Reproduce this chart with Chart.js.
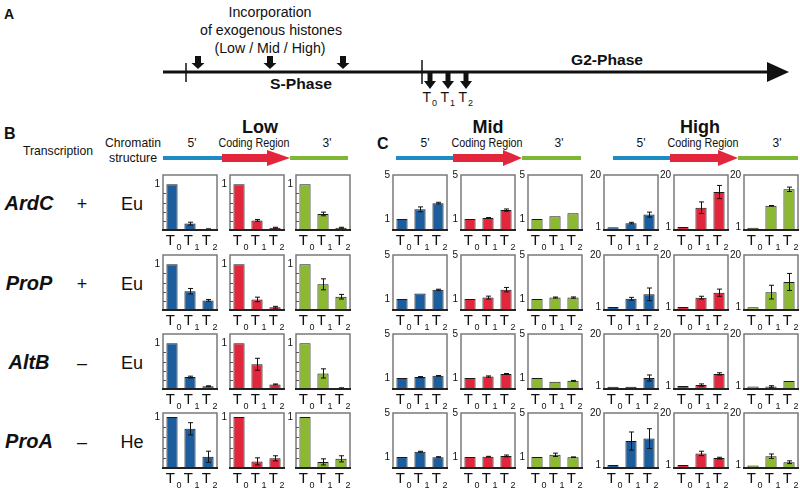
<!DOCTYPE html>
<html>
<head>
<meta charset="utf-8">
<script src="https://cdn.jsdelivr.net/npm/chart.js@4.4.0/dist/chart.umd.min.js"></script>
<style>
  html, body { margin: 0; padding: 0; background: #fff; }
  #fig { position: relative; width: 800px; height: 488px; overflow: hidden; }
  #fig svg { position: absolute; left: 0; top: 0; }
  #fig canvas { position: absolute; }
</style>
</head>
<body>
<div id="fig"><svg id="art" width="800" height="488" xmlns="http://www.w3.org/2000/svg"></svg></div>
<script>
// ---- data ----
const levels = ['Low', 'Mid', 'High'];
const regionNames = ["5'", 'Coding Region', "3'"];
const genes = ['ArdC', 'ProP', 'AltB', 'ProA'];
const transcription = ['+', '+', '\u2013', '\u2013'];
const chromatin = ['Eu', 'Eu', 'Eu', 'He'];
const times = ['T0', 'T1', 'T2'];
const phaseLabels = ['S-Phase', 'G2-Phase'];

// y ranges and the tick labels shown on them
const lowMax = [1.2, 1.2, 1.2, 1.08];
const midMax = 5;
const highMax = 20;
const lowTicks = [1];
const midTicks = [1, 5];
const highTicks = [1, 20];

// relative signal, [gene][region 5'/coding/3'][T0,T1,T2]
const lowMeans = [
  [[1, 0.14, 0.02], [1, 0.21, 0.05], [1, 0.35, 0.05]],
  [[1, 0.41, 0.21], [1, 0.23, 0.06], [1, 0.56, 0.29]],
  [[1, 0.26, 0.06], [1, 0.54, 0.10], [1, 0.34, 0.02]],
  [[1, 0.77, 0.22], [1, 0.13, 0.19], [1, 0.12, 0.18]]
];
const lowErrors = [
  [[0, 0.03, 0.005], [0, 0.02, 0.01], [0, 0.04, 0.01]],
  [[0, 0.06, 0.02], [0, 0.05, 0.02], [0, 0.12, 0.05]],
  [[0, 0.02, 0.01], [0, 0.13, 0.01], [0, 0.10, 0.005]],
  [[0, 0.12, 0.11], [0, 0.07, 0.05], [0, 0.06, 0.06]]
];
const midMeans = [
  [[1, 1.88, 2.44], [1, 1.10, 1.81], [1, 1.25, 1.52]],
  [[1, 1.51, 1.84], [1, 1.13, 1.85], [1, 1.13, 1.13]],
  [[1, 1.08, 1.20], [1, 1.13, 1.37], [1, 0.65, 0.74]],
  [[1, 1.48, 0.98], [1, 1.03, 1.10], [1, 1.20, 0.98]]
];
const midErrors = [
  [[0, 0.22, 0.08], [0, 0.03, 0.10], [0, 0, 0]],
  [[0, 0, 0.05], [0, 0.13, 0.20], [0, 0.05, 0.06]],
  [[0, 0.05, 0.03], [0, 0.06, 0.04], [0, 0, 0.04]],
  [[0, 0.04, 0.05], [0, 0.03, 0.08], [0, 0.15, 0.03]]
];
const highMeans = [
  [[1.0, 2.5, 5.6], [1.1, 8.1, 13.8], [0.8, 8.8, 14.8]],
  [[1.1, 4.1, 5.7], [1.1, 4.5, 6.3], [1.0, 6.5, 10.2]],
  [[0.8, 0.8, 4.0], [1.1, 1.45, 5.5], [0.9, 0.9, 2.9]],
  [[1.1, 9.8, 10.7], [1.1, 5.3, 3.6], [0.9, 4.3, 2.1]]
];
const highErrors = [
  [[0, 0.3, 0.9], [0, 2.1, 2.4], [0, 0.1, 0.8]],
  [[0, 0.5, 2.3], [0, 0.5, 1.3], [0, 2.5, 3.1]],
  [[0, 0, 1.1], [0, 0.4, 0.4], [0, 0.3, 0]],
  [[0, 3.3, 3.6], [0, 0.8, 0.3], [0, 0.8, 0.5]]
];

// ---- layout ----
const FONT = '"Liberation Sans", Arial, sans-serif';
const barColors = ['#1c5d9e', '#e2263c', '#8cb832'];
const lineColors = ['#1e8bc3', '#e3263c', '#7db735'];
const colX = [[163, 230, 296], [393, 461, 528], [604, 674, 744]];
const rowY = [175, 255, 334, 413];
const BW = 54, BH = 55;
const PAD = { left: 22, top: 8, right: 4, bottom: 26 };

// ---- schematic / labels (svg) ----
const svg = document.getElementById('art');
let s = '';
function text(x, y, str, size, opts) {
  opts = opts || {};
  const w = opts.bold ? 'bold' : 'normal';
  const st = opts.italic ? 'italic' : 'normal';
  const anchor = opts.anchor || 'middle';
  const len = opts.len ? ` textLength="${opts.len}" lengthAdjust="spacingAndGlyphs"` : '';
  s += `<text x="${x}" y="${y}" font-family='${FONT}' font-size="${size}" font-weight="${w}" font-style="${st}" text-anchor="${anchor}" fill="#111"${len}>${str}</text>`;
}
function downArrow(x, y0, y1, y2, shaft, head) {
  s += `<rect x="${x - shaft / 2}" y="${y0}" width="${shaft}" height="${y1 - y0}" fill="#111"/>`;
  s += `<polygon points="${x - head / 2},${y1} ${x + head / 2},${y1} ${x},${y2}" fill="#111"/>`;
}

// panel A
text(4, 19, 'A', 14, { bold: true, anchor: 'start' });
text(270, 17, 'Incorporation', 14, { len: 83 });
text(271, 35, 'of exogenous histones', 14, { len: 142 });
text(270, 53, '(Low / Mid / High)', 14, { len: 111 });
s += `<line x1="163" y1="72" x2="772" y2="72" stroke="#111" stroke-width="3"/>`;
s += `<polygon points="767,62 789,72 767,82" fill="#111"/>`;
s += `<line x1="186" y1="63" x2="186" y2="82" stroke="#111" stroke-width="1.5"/>`;
s += `<line x1="422" y1="60" x2="422" y2="84" stroke="#111" stroke-width="1.5"/>`;
[198, 270, 343].forEach(x => downArrow(x, 56, 63, 69, 6, 13));
[430, 448, 466].forEach((x, i) => {
  downArrow(x, 73, 81, 89, 5, 12);
  text(x + 1, 102, times[i][0], 14, { anchor: 'end' });
  text(x + 2, 106, times[i].slice(1), 9, { anchor: 'start' });
});
text(301, 89, phaseLabels[0], 14, { bold: true, len: 62 });
text(607, 65, phaseLabels[1], 14, { bold: true, len: 72 });

// panels B / C header
text(4, 139, 'B', 16, { bold: true, anchor: 'start' });
text(377, 149, 'C', 16, { bold: true, anchor: 'start' });
text(58, 155, 'Transcription', 13, { len: 70 });
text(133, 147, 'Chromatin', 13, { len: 56 });
text(133, 162, 'structure', 13, { len: 48 });

const geneBar = [
  [163, 222, 267, 290, 348],
  [396, 453, 503, 522, 581],
  [613, 670, 718, 738, 798]
];
const levelX = [260, 488, 700];
const regionLabelX = [[192, 254, 327], [425, 487, 559], [641, 703, 777]];
levels.forEach((lv, li) => {
  text(levelX[li], 133, lv, 18, { bold: true });
  regionNames.forEach((rn, ri) => {
    text(regionLabelX[li][ri], 147, rn, 12, ri === 1 ? { len: 71 } : {});
  });
  const [a, b, c, d, e] = geneBar[li];
  const gy = 158;
  s += `<rect x="${a}" y="${gy - 2}" width="${b - a}" height="4" fill="${lineColors[0]}"/>`;
  s += `<rect x="${d}" y="${gy - 2}" width="${e - d}" height="4" fill="${lineColors[2]}"/>`;
  s += `<rect x="${b}" y="${gy - 4}" width="${c - b + 1}" height="8" fill="${lineColors[1]}"/>`;
  s += `<polygon points="${c},${gy - 8} ${d},${gy} ${c},${gy + 8}" fill="${lineColors[1]}"/>`;
});

genes.forEach((g, gi) => {
  const cy = rowY[gi] + BH / 2 + 7;
  text(29, cy, g, 20, { bold: true, italic: true });
  text(82, cy, transcription[gi], 18);
  text(132, cy, chromatin[gi], 18);
});
svg.innerHTML = s;

// ---- small bar charts ----
const panelDecor = {
  id: 'panelDecor',
  afterDatasetsDraw(chart, args, opts) {
    const { ctx, chartArea: a } = chart;
    const x = chart.scales.x, y = chart.scales.y;
    const vals = chart.data.datasets[0].data;
    ctx.save();
    // error bars
    ctx.strokeStyle = '#111';
    ctx.lineWidth = 1;
    vals.forEach((v, i) => {
      const e = opts.errors[i];
      if (!e) return;
      const cx = Math.round(x.getPixelForValue(i)) + 0.5;
      const t = y.getPixelForValue(v + e), b = y.getPixelForValue(v - e);
      ctx.beginPath();
      ctx.moveTo(cx, t); ctx.lineTo(cx, b);
      ctx.moveTo(cx - 2.5, t); ctx.lineTo(cx + 2.5, t);
      ctx.moveTo(cx - 2.5, b); ctx.lineTo(cx + 2.5, b);
      ctx.stroke();
    });
    // frame
    ctx.strokeStyle = '#7a7a7a';
    ctx.lineWidth = 1.5;
    ctx.strokeRect(a.left, a.top, a.right - a.left, a.bottom - a.top);
    ctx.strokeStyle = '#222';
    ctx.lineWidth = 2;
    ctx.beginPath();
    ctx.moveTo(a.left - 1, a.bottom);
    ctx.lineTo(a.right + 1, a.bottom);
    ctx.stroke();
    if (opts.minor) {
      ctx.strokeStyle = '#555';
      ctx.lineWidth = 1;
      opts.minor.forEach(m => {
        const yy = Math.round(y.getPixelForValue(m)) + 0.5;
        ctx.beginPath(); ctx.moveTo(a.left, yy); ctx.lineTo(a.left + 3, yy); ctx.stroke();
      });
    }
    // y labels
    ctx.fillStyle = '#111';
    ctx.font = '10px ' + FONT;
    ctx.textAlign = 'right';
    ctx.textBaseline = 'middle';
    opts.ticks.forEach(t => ctx.fillText(String(t), a.left - 3, y.getPixelForValue(t)));
    // x labels: T with subscript
    ctx.textBaseline = 'alphabetic';
    chart.data.labels.forEach((lab, i) => {
      const cx = x.getPixelForValue(i);
      ctx.font = '15px ' + FONT;
      ctx.textAlign = 'right';
      ctx.fillText(lab[0], cx + 3, a.bottom + 15);
      ctx.font = '9px ' + FONT;
      ctx.textAlign = 'left';
      ctx.fillText(lab.slice(1), cx + 4.5, a.bottom + 20);
    });
    ctx.restore();
  }
};

const meansByLevel = [lowMeans, midMeans, highMeans];
const errorsByLevel = [lowErrors, midErrors, highErrors];
const fig = document.getElementById('fig');

levels.forEach((lv, li) => {
  genes.forEach((g, gi) => {
    regionNames.forEach((rn, ri) => {
      const cv = document.createElement('canvas');
      cv.width = BW + PAD.left + PAD.right;
      cv.height = BH + PAD.top + PAD.bottom;
      cv.style.left = (colX[li][ri] - PAD.left) + 'px';
      cv.style.top = (rowY[gi] - PAD.top) + 'px';
      fig.appendChild(cv);
      const yMax = li === 0 ? lowMax[gi] : (li === 1 ? midMax : highMax);
      const ticks = li === 0 ? lowTicks : (li === 1 ? midTicks : highTicks);
      new Chart(cv, {
        type: 'bar',
        data: {
          labels: times,
          datasets: [{
            data: meansByLevel[li][gi][ri],
            backgroundColor: barColors[ri],
            borderColor: '#1a1a1a',
            borderWidth: 1,
            barPercentage: 0.62,
            categoryPercentage: 1
          }]
        },
        options: {
          responsive: false,
          animation: false,
          layout: { padding: PAD },
          plugins: {
            legend: { display: false },
            tooltip: { enabled: false },
            panelDecor: {
              errors: errorsByLevel[li][gi][ri],
              ticks: ticks,
              minor: li === 0 ? [0.2, 0.4, 0.6, 0.8] : null
            }
          },
          scales: {
            x: { display: false },
            y: { display: false, min: 0, max: yMax }
          }
        },
        plugins: [panelDecor]
      });
    });
  });
});
</script>
</body>
</html>
